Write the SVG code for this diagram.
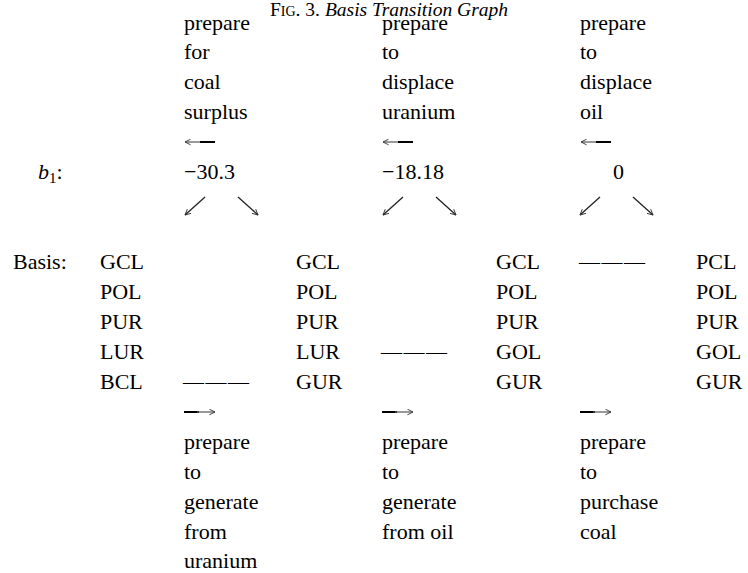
<svg xmlns="http://www.w3.org/2000/svg" width="748" height="573" viewBox="0 0 748 573" font-family="'Liberation Serif', 'DejaVu Serif', serif">
<defs>
<style>
text{font-family:'Liberation Serif','DejaVu Serif',serif;font-size:22px;fill:#000}
text.ttl{font-size:19.5px}
.it{font-style:italic}
.sc{font-variant:small-caps}
text.dash{letter-spacing:1.5px;font-size:21px}
.sub{font-size:15px}
.thin{stroke:#555;stroke-width:1.2;fill:none}
.bold{stroke:#000;stroke-width:2;fill:none}
.diag{stroke:#222;stroke-width:1.3;fill:none}
</style>
<marker id="h" viewBox="0 0 10 10" refX="9" refY="5" markerWidth="7" markerHeight="7" orient="auto" markerUnits="userSpaceOnUse">
<path d="M1,1 L9,5 L1,9" fill="none" stroke="#333" stroke-width="1.3"/>
</marker>
</defs>
<rect width="748" height="573" fill="#fff"/>

<g id="title">
<text class="ttl" x="270" y="16"><tspan class="sc">Fig. 3.</tspan> <tspan class="it">Basis Transition Graph</tspan></text>
</g>

<g id="row-labels">
<text x="38" y="179"><tspan class="it">b</tspan><tspan class="sub" dy="4">1</tspan><tspan dy="-4">:</tspan></text>
<text x="13" y="269">Basis:</text>
</g>

<g id="basis1">
<text x="100" y="269">GCL</text>
<text x="100" y="299">POL</text>
<text x="100" y="329">PUR</text>
<text x="100" y="359">LUR</text>
<text x="100" y="389">BCL</text>
</g>
<g id="basis2">
<text x="296" y="269">GCL</text>
<text x="296" y="299">POL</text>
<text x="296" y="329">PUR</text>
<text x="296" y="359">LUR</text>
<text x="296" y="389">GUR</text>
</g>
<g id="basis3">
<text x="496" y="269">GCL</text>
<text x="496" y="299">POL</text>
<text x="496" y="329">PUR</text>
<text x="496" y="359">GOL</text>
<text x="496" y="389">GUR</text>
</g>
<g id="basis4">
<text x="696" y="269">PCL</text>
<text x="696" y="299">POL</text>
<text x="696" y="329">PUR</text>
<text x="696" y="359">GOL</text>
<text x="696" y="389">GUR</text>
</g>

<g id="transition1">
<text x="184" y="30">prepare</text>
<text x="184" y="59">for</text>
<text x="184" y="89">coal</text>
<text x="184" y="119">surplus</text>
<text x="184" y="179">−30.3</text>
<text class="dash" x="183" y="389">———</text>
<text x="184" y="449">prepare</text>
<text x="184" y="479">to</text>
<text x="184" y="509">generate</text>
<text x="184" y="539">from</text>
<text x="184" y="568">uranium</text>
</g>
<g id="transition2">
<text x="382" y="30">prepare</text>
<text x="382" y="59">to</text>
<text x="382" y="89">displace</text>
<text x="382" y="119">uranium</text>
<text x="382" y="179">−18.18</text>
<text class="dash" x="381" y="359">———</text>
<text x="382" y="449">prepare</text>
<text x="382" y="479">to</text>
<text x="382" y="509">generate</text>
<text x="382" y="539">from oil</text>
</g>
<g id="transition3">
<text x="580" y="30">prepare</text>
<text x="580" y="59">to</text>
<text x="580" y="89">displace</text>
<text x="580" y="119">oil</text>
<text x="613" y="179">0</text>
<text class="dash" x="579" y="269">———</text>
<text x="580" y="449">prepare</text>
<text x="580" y="479">to</text>
<text x="580" y="509">purchase</text>
<text x="580" y="539">coal</text>
</g>

<g id="connectors">
<path class="thin" d="M202,142 H185" marker-end="url(#h)"/>
<path class="bold" d="M200,142 H215"/>
<path class="thin" d="M400,142 H383" marker-end="url(#h)"/>
<path class="bold" d="M398,142 H413"/>
<path class="thin" d="M598,142 H581" marker-end="url(#h)"/>
<path class="bold" d="M596,142 H611"/>

<path class="diag" d="M205,197 L185,215" marker-end="url(#h)"/>
<path class="diag" d="M238,197 L258,215" marker-end="url(#h)"/>
<path class="diag" d="M403,197 L383,215" marker-end="url(#h)"/>
<path class="diag" d="M436,197 L456,215" marker-end="url(#h)"/>
<path class="diag" d="M600,197 L580,215" marker-end="url(#h)"/>
<path class="diag" d="M633,197 L653,215" marker-end="url(#h)"/>

<path class="bold" d="M184,412 H199"/>
<path class="thin" d="M197,412 H215" marker-end="url(#h)"/>
<path class="bold" d="M382,412 H397"/>
<path class="thin" d="M395,412 H413" marker-end="url(#h)"/>
<path class="bold" d="M580,412 H595"/>
<path class="thin" d="M593,412 H611" marker-end="url(#h)"/>
</g>
</svg>
